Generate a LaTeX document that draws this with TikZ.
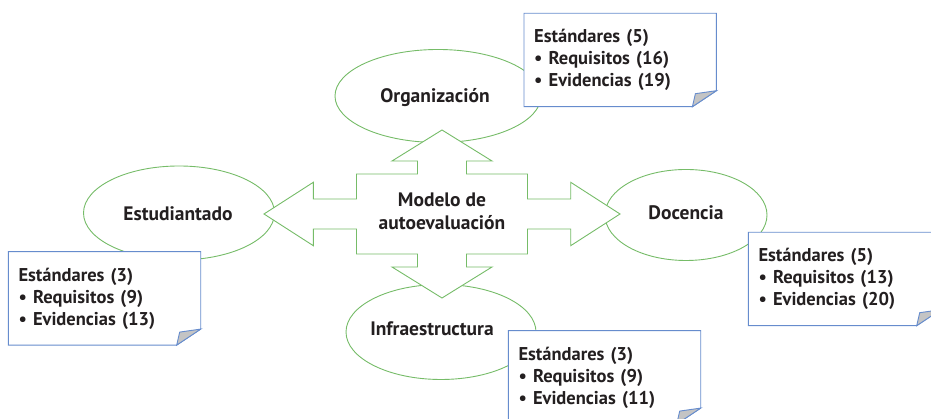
\documentclass[tikz,border=0pt]{standalone}
\usepackage{fontspec}
\setmainfont{PT Sans}[BoldFont={PT Sans Bold}]
\usetikzlibrary{shapes.geometric}
\definecolor{ellgreen}{RGB}{118,188,104}
\definecolor{noteblue}{RGB}{102,140,205}
\definecolor{foldgray}{RGB}{196,196,196}
\definecolor{inkdark}{RGB}{35,31,32}

\begin{document}
\begin{tikzpicture}[x=1pt,y=1pt,
  area/.style={ellipse, draw=ellgreen, line width=0.9pt, fill=white, inner sep=0pt},
  lbl/.style={font=\bfseries\fontsize{19.5}{23}\selectfont, text=inkdark, align=center},
  note/.style={anchor=north west, fill=white, minimum width=192pt, minimum height=93pt,
    text width=172pt, inner xsep=10pt, inner ysep=0pt, align=left,
    font=\bfseries\fontsize{18.5}{22}\selectfont, text=inkdark},
  noteline/.style={draw=noteblue, line width=0.9pt, line join=miter}]
\useasboundingbox (0,0) rectangle (931,419);
\clip (0,0) rectangle (931,419);

% the four areas
\node[area, minimum width=206pt, minimum height=93pt] (org) at (438,323) {};
\node[area, minimum width=191pt, minimum height=94pt] (est) at (179,206) {};
\node[area, minimum width=162pt, minimum height=91pt] (doc) at (686,204) {};
\node[area, minimum width=190pt, minimum height=95pt] (inf) at (441,87) {};
\node[lbl] (orgT) at (435,321) {Organización};
\node[lbl] (estT) at (178,205) {Estudiantado};
\node[lbl] (docT) at (686,206) {Docencia};
\node[lbl] (infT) at (432,90) {Infraestructura};

% four-way arrow in the middle
\coordinate (c) at (442,205);
\draw[ellgreen, line width=0.9pt, fill=white, line join=miter, shift={(c)}]
  (0,84) -- (50,53) -- (24.5,53) -- (24.5,40) -- (85.5,40) -- (85.5,15)
  -- (128.7,15) -- (128.7,31.7) -- (178,0) -- (128.7,-31.7) -- (128.7,-15)
  -- (85.5,-15) -- (85.5,-40) -- (24.5,-40) -- (24.5,-53) -- (50,-53)
  -- (0,-84) -- (-50,-53) -- (-24.5,-53) -- (-24.5,-40) -- (-85.5,-40)
  -- (-85.5,-15) -- (-128.7,-15) -- (-128.7,-31.7) -- (-178,0)
  -- (-128.7,31.7) -- (-128.7,15) -- (-85.5,15) -- (-85.5,40) -- (-24.5,40)
  -- (-24.5,53) -- (-50,53) -- cycle;
\node[lbl] (core) at (442,208) {Modelo de\\autoevaluación};

% notes with folded corner
\node[note] (nOrg) at (524,405.7) {Estándares (5)\\• Requisitos (16)\\• Evidencias (19)};
\node[note] (nEst) at (8.3,167.3) {Estándares (3)\\• Requisitos (9)\\• Evidencias (13)};
\node[note] (nDoc) at (748.3,186.7) {Estándares (5)\\• Requisitos (13)\\• Evidencias (20)};
\node[note] (nInf) at (508.3,88.3) {Estándares (3)\\• Requisitos (9)\\• Evidencias (11)};
\foreach \n in {nOrg,nEst,nDoc,nInf}{
  \draw[noteline] (\n.north west) -- (\n.north east) -- ([yshift=16pt]\n.south east)
    -- ([xshift=-24pt]\n.south east) -- (\n.south west) -- cycle;
  \draw[noteline, fill=foldgray] ([xshift=-24pt]\n.south east)
    -- ([xshift=-21pt,yshift=13pt]\n.south east) -- ([yshift=16pt]\n.south east) -- cycle;
}
\end{tikzpicture}
\end{document}
